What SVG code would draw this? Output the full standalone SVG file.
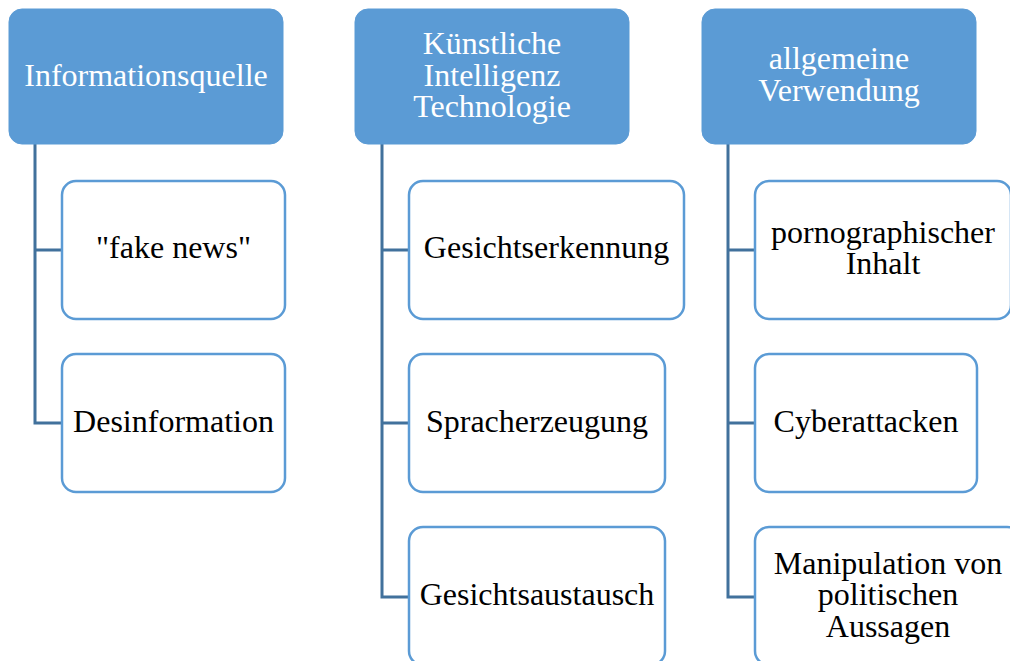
<svg xmlns="http://www.w3.org/2000/svg" width="1010" height="661" viewBox="0 0 1010 661">
  <style>
    .head rect { fill: #5B9BD5; stroke: #5B9BD5; stroke-width: 1; }
    .head text { fill: #FFFFFF; }
    .item rect { fill: #FFFFFF; stroke: #5B9BD5; stroke-width: 2.5; }
    .item text { fill: #000000; }
    text { font-family: "Liberation Serif", "Times New Roman", serif; font-size: 32px; text-anchor: middle; }
    .links path { fill: none; stroke: #41719C; stroke-width: 3; }
  </style>
  <rect width="1010" height="661" fill="#FFFFFF"/>

  <!-- connectors from each header to its items -->
  <g class="links">
    <path d="M35,144 V423 H62 M35,250 H62"/>
    <path d="M382,144 V597 H409 M382,250 H409 M382,423 H409"/>
    <path d="M728,144 V597 H755 M728,250 H755 M728,423 H755"/>
  </g>

  <!-- column 1 -->
  <g id="informationsquelle" class="head">
    <rect x="9" y="9" width="274" height="135" rx="13"/>
    <text x="146" y="86">Informationsquelle</text>
  </g>
  <g id="fake-news" class="item">
    <rect x="62" y="181" width="223" height="138" rx="14"/>
    <text x="173.5" y="258">"fake news"</text>
  </g>
  <g id="desinformation" class="item">
    <rect x="62" y="354" width="223" height="138" rx="14"/>
    <text x="173.5" y="432">Desinformation</text>
  </g>

  <!-- column 2 -->
  <g id="ki-technologie" class="head">
    <rect x="355" y="9" width="274" height="135" rx="13"/>
    <text x="492" y="54">Künstliche</text>
    <text x="492" y="86">Intelligenz</text>
    <text x="492" y="117">Technologie</text>
  </g>
  <g id="gesichtserkennung" class="item">
    <rect x="409" y="181" width="275" height="138" rx="14"/>
    <text x="546.5" y="258">Gesichtserkennung</text>
  </g>
  <g id="spracherzeugung" class="item">
    <rect x="409" y="354" width="256" height="138" rx="14"/>
    <text x="537" y="432">Spracherzeugung</text>
  </g>
  <g id="gesichtsaustausch" class="item">
    <rect x="409" y="527" width="256" height="138" rx="14"/>
    <text x="537" y="605">Gesichtsaustausch</text>
  </g>

  <!-- column 3 -->
  <g id="allgemeine-verwendung" class="head">
    <rect x="702" y="9" width="274" height="135" rx="13"/>
    <text x="839" y="69">allgemeine</text>
    <text x="839" y="101">Verwendung</text>
  </g>
  <g id="pornographischer-inhalt" class="item">
    <rect x="755" y="181" width="256" height="138" rx="14"/>
    <text x="883" y="243">pornographischer</text>
    <text x="883" y="274">Inhalt</text>
  </g>
  <g id="cyberattacken" class="item">
    <rect x="755" y="354" width="222" height="138" rx="14"/>
    <text x="866" y="432">Cyberattacken</text>
  </g>
  <g id="manipulation" class="item">
    <rect x="755" y="527" width="266" height="138" rx="14"/>
    <text x="888" y="574">Manipulation von</text>
    <text x="888" y="605">politischen</text>
    <text x="888" y="637">Aussagen</text>
  </g>
</svg>
